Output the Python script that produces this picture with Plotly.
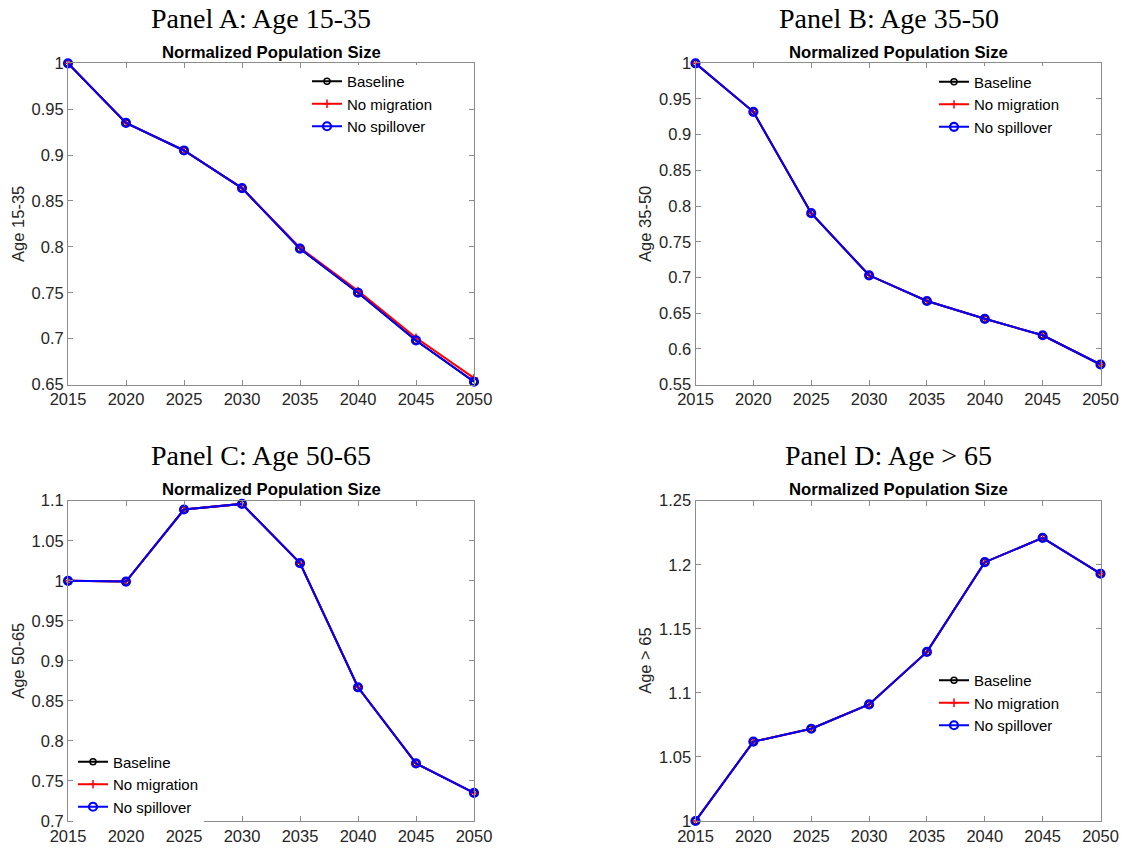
import plotly.graph_objects as go

# ---- data -------------------------------------------------------------
years = [2015, 2020, 2025, 2030, 2035, 2040, 2045, 2050]

age_15_35_baseline = [1.000, 0.935, 0.905, 0.864, 0.798, 0.750, 0.698, 0.653]
age_15_35_no_migration = [1.000, 0.935, 0.905, 0.864, 0.799, 0.752, 0.701, 0.657]
age_15_35_no_spillover = [1.000, 0.935, 0.905, 0.864, 0.798, 0.750, 0.698, 0.653]

age_35_50_baseline = [1.000, 0.932, 0.790, 0.703, 0.667, 0.642, 0.619, 0.578]
age_35_50_no_migration = [1.000, 0.932, 0.790, 0.703, 0.667, 0.642, 0.619, 0.578]
age_35_50_no_spillover = [1.000, 0.932, 0.790, 0.703, 0.667, 0.642, 0.619, 0.578]

age_50_65_baseline = [1.000, 0.999, 1.089, 1.096, 1.022, 0.867, 0.772, 0.735]
age_50_65_no_migration = [1.000, 0.999, 1.089, 1.096, 1.022, 0.867, 0.772, 0.735]
age_50_65_no_spillover = [1.000, 0.999, 1.089, 1.096, 1.022, 0.867, 0.772, 0.735]

age_65_plus_baseline = [1.000, 1.062, 1.072, 1.091, 1.132, 1.202, 1.221, 1.193]
age_65_plus_no_migration = [1.000, 1.062, 1.072, 1.091, 1.132, 1.202, 1.221, 1.193]
age_65_plus_no_spillover = [1.000, 1.062, 1.072, 1.091, 1.132, 1.202, 1.221, 1.193]

panel_titles = ["Panel A: Age 15-35", "Panel B: Age 35-50",
                "Panel C: Age 50-65", "Panel D: Age > 65"]
y_labels = ["Age 15-35", "Age 35-50", "Age 50-65", "Age > 65"]
subtitle = "Normalized Population Size"
series_names = ["Baseline", "No migration", "No spillover"]

y_ticks_a = [0.65, 0.70, 0.75, 0.80, 0.85, 0.90, 0.95, 1.00]
y_ticks_b = [0.55, 0.60, 0.65, 0.70, 0.75, 0.80, 0.85, 0.90, 0.95, 1.00]
y_ticks_c = [0.70, 0.75, 0.80, 0.85, 0.90, 0.95, 1.00, 1.05, 1.10]
y_ticks_d = [1.00, 1.05, 1.10, 1.15, 1.20, 1.25]
x_ticks = [2015, 2020, 2025, 2030, 2035, 2040, 2045, 2050]

panels = [
    (age_15_35_baseline, age_15_35_no_migration, age_15_35_no_spillover, y_ticks_a),
    (age_35_50_baseline, age_35_50_no_migration, age_35_50_no_spillover, y_ticks_b),
    (age_50_65_baseline, age_50_65_no_migration, age_50_65_no_spillover, y_ticks_c),
    (age_65_plus_baseline, age_65_plus_no_migration, age_65_plus_no_spillover, y_ticks_d),
]

# ---- layout geometry (pixels) ------------------------------------------
W, H = 1126, 850
# left, right, top, bottom of each axes box
boxes = [(68, 474, 63.3, 384.5), (695.5, 1100.5, 63.3, 384.5),
         (68, 474, 500.7, 821), (695.5, 1100.5, 500.7, 821)]
# legend anchor: left edge of the legend line, centre of first row
legend_pos = [(312, 85), (939, 85.6), (78, 765.5), (939, 684)]
title_x = [261, 888.5, 261, 888.5]
ylabel_x = [18, 645, 18, 645]

SANS = "Liberation Sans, Arial, Helvetica, sans-serif"
SERIF = "Liberation Serif, Times New Roman, serif"
AXIS_GRAY = "#8c8c8c"
TEXT_GRAY = "#262626"

styles = [
    dict(color="#000000", symbol="circle-open", size=6, mlw=1.5),
    dict(color="#ff0000", symbol="cross-thin-open", size=6, mlw=1.5),
    dict(color="#0000ff", symbol="circle-open", size=8, mlw=2.2),
]


def px_x(x):
    return x / W


def px_y(y):
    return 1 - y / H


fig = go.Figure()
annotations = []

for i, (base, nomig, nospill, yticks) in enumerate(panels):
    n = "" if i == 0 else str(i + 1)
    left, right, top, bottom = boxes[i]
    legend_name = "legend" if i == 0 else f"legend{i + 1}"

    for name, vals, st in zip(series_names, (base, nomig, nospill), styles):
        fig.add_trace(go.Scatter(
            x=years, y=vals, name=name, mode="lines+markers",
            xaxis=f"x{n}", yaxis=f"y{n}", legend=legend_name,
            cliponaxis=False,
            line=dict(color=st["color"], width=2),
            marker=dict(symbol=st["symbol"], size=st["size"], color=st["color"],
                        line=dict(color=st["color"], width=st["mlw"])),
        ))

    axis_common = dict(
        showline=True, linecolor=AXIS_GRAY, linewidth=1, mirror="ticks",
        ticks="inside", ticklen=5, tickwidth=1, tickcolor=AXIS_GRAY,
        showgrid=False, zeroline=False, automargin=False,
        tickfont=dict(family=SANS, size=16.5, color=TEXT_GRAY),
    )
    fig.update_layout(**{
        f"xaxis{n}": dict(
            domain=[px_x(left), px_x(right)], anchor=f"y{n}",
            range=[years[0], years[-1]], tickvals=x_ticks,
            ticktext=[str(t) for t in x_ticks], **axis_common),
        f"yaxis{n}": dict(
            domain=[px_y(bottom), px_y(top)], anchor=f"x{n}",
            range=[yticks[0], yticks[-1]], tickvals=yticks,
            ticktext=[f"{t:g}" for t in yticks], **axis_common),
    })

    lx, ly = legend_pos[i]
    fig.update_layout(**{legend_name: dict(
        x=px_x(lx - 5), y=px_y(ly - 20), xanchor="left", yanchor="top",
        bgcolor="rgba(255,255,255,1)", borderwidth=0,
        font=dict(family=SANS, size=15, color="#000000"),
        itemwidth=30, tracegroupgap=0,
    )})

    # panel heading
    annotations.append(dict(
        text=panel_titles[i], x=px_x(title_x[i]), y=px_y(top - 45),
        xref="paper", yref="paper", xanchor="center", yanchor="middle",
        showarrow=False, font=dict(family=SERIF, size=28, color="#000000")))
    # axes title
    annotations.append(dict(
        text=f"<b>{subtitle}</b>", x=px_x((left + right) / 2), y=px_y(top - 11),
        xref="paper", yref="paper", xanchor="center", yanchor="middle",
        showarrow=False, font=dict(family=SANS, size=16.7, color="#000000")))
    # y-axis label
    annotations.append(dict(
        text=y_labels[i], x=px_x(ylabel_x[i]), y=px_y((top + bottom) / 2),
        xref="paper", yref="paper", xanchor="center", yanchor="middle",
        textangle=-90, showarrow=False,
        font=dict(family=SANS, size=16.5, color=TEXT_GRAY)))

fig.update_layout(
    width=W, height=H,
    margin=dict(l=0, r=0, t=0, b=0, autoexpand=False),
    paper_bgcolor="white", plot_bgcolor="white",
    annotations=annotations,
)

fig.write_html("out.html")
